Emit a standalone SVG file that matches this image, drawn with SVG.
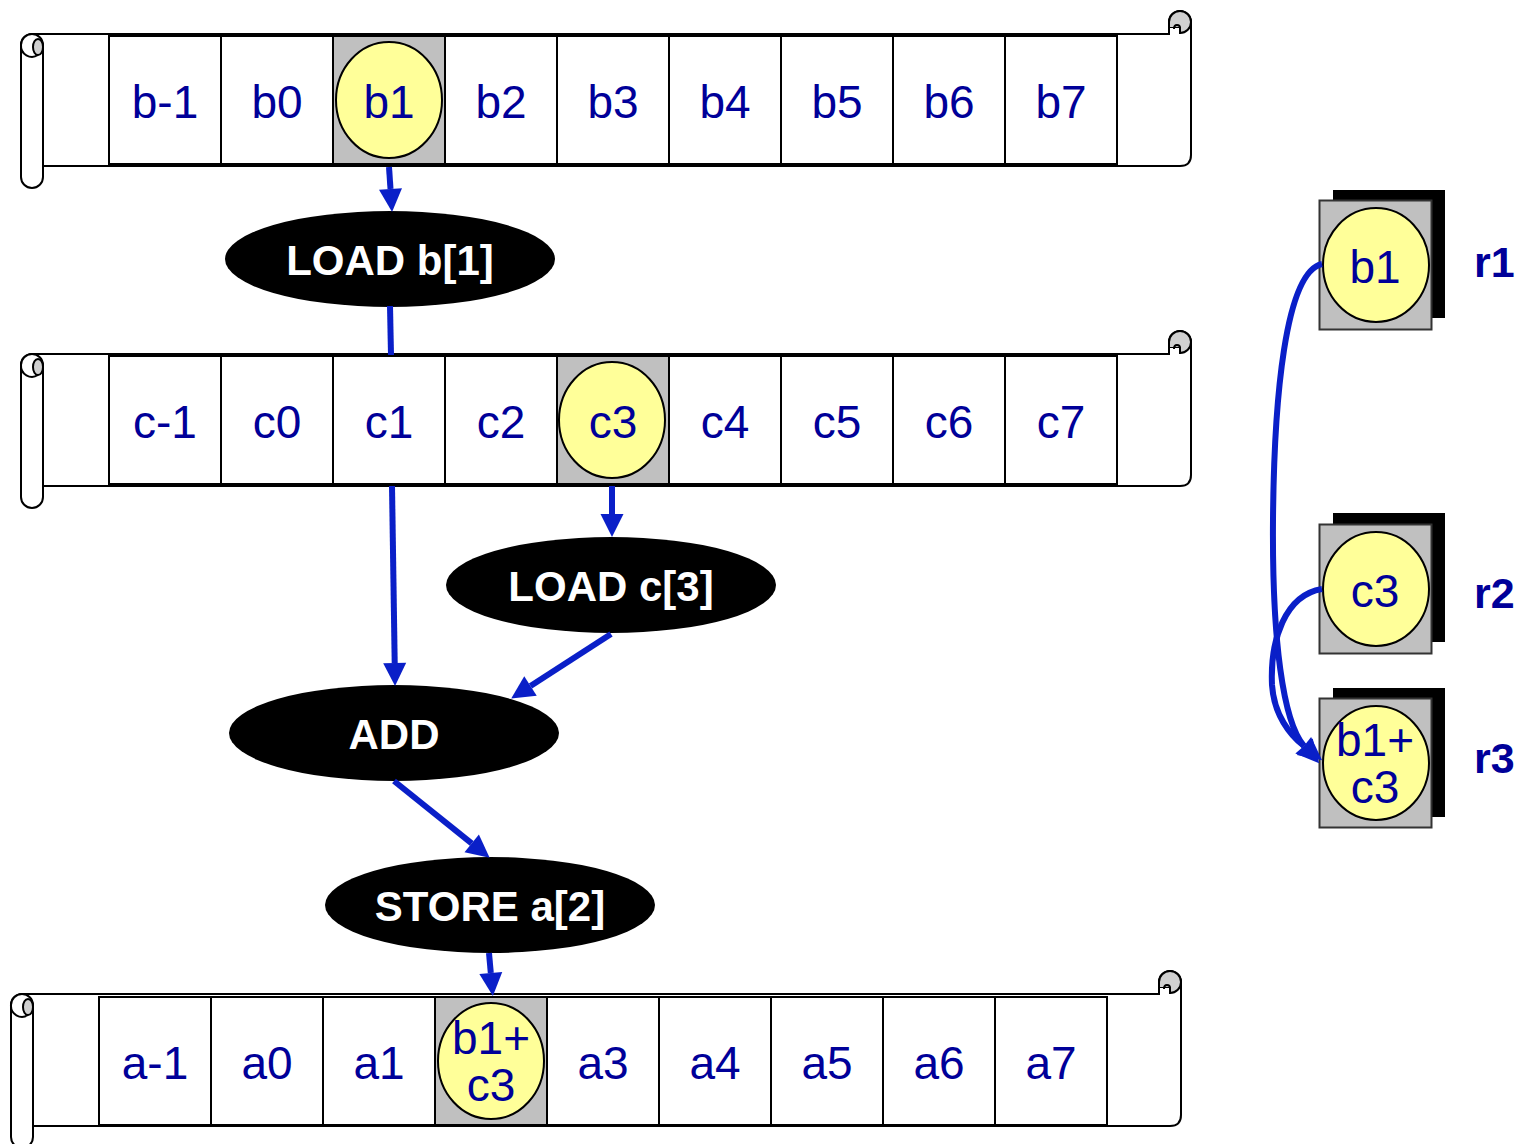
<svg xmlns="http://www.w3.org/2000/svg" xmlns:xlink="http://www.w3.org/1999/xlink" width="1518" height="1144" viewBox="0 0 1518 1144">
<style>
.ln{fill:none;stroke:#000;stroke-width:2}
.body{fill:#fff;stroke:#000;stroke-width:2}
.curl{fill:#d0d0d0;stroke:#000;stroke-width:2}
.cell{fill:#fff;stroke:#000;stroke-width:2}
.hl{fill:#c0c0c0;stroke:#000;stroke-width:2}
.val{fill:#ffff99;stroke:#000;stroke-width:2}
.t{font-family:"Liberation Sans",Arial,sans-serif;font-size:46px;fill:#000099;text-anchor:middle}
.op{fill:#000}
.opt{font-family:"Liberation Sans",Arial,sans-serif;font-size:42px;font-weight:bold;fill:#fff;text-anchor:middle}
.rl{font-family:"Liberation Sans",Arial,sans-serif;font-size:43px;font-weight:bold;fill:#000099}
.arr{fill:none;stroke:#0a1fc8;stroke-width:6}
.arrh{marker-end:url(#ah)}
</style>
<defs>
<marker id="ah" markerUnits="userSpaceOnUse" markerWidth="24" markerHeight="24" refX="0" refY="11.5" orient="auto" overflow="visible">
<path d="M0,0 L23,11.5 L0,23 Z" fill="#0a1fc8"/>
</marker>
<g id="scroll">
<path class="body" d="M32,34 H1169 V22 A11,11 0 0 1 1191,22 V155 Q1191,166 1180,166 H43 V45 H21 V45 A11,11 0 0 1 32,34 Z"/>
<path class="curl" d="M1169,22 A11,11 0 0 1 1191,22 A11,11 0 0 1 1180,33 V28 H1169 Z"/>
<rect x="1169" y="28" width="11" height="6" fill="#fff"/>
<path class="ln" d="M1169,22 V34 M1180,28 V34 M1174,29 Q1174,25 1177,25 Q1180,25 1180,28"/>
<path class="body" d="M21,45 V177 A11,11 0 0 0 43,177 V45 A11,11 0 0 0 21,45 Z"/>
<ellipse class="curl" cx="38" cy="47" rx="5" ry="8"/>
<path class="ln" d="M21,45 A11,11 0 0 0 38,55"/>
</g>
</defs>
<rect width="1518" height="1144" fill="#fff"/>

<g id="array-b">
<use xlink:href="#scroll" href="#scroll"/>
<rect class="cell" x="109" y="36" width="112" height="128"/>
<rect class="cell" x="221" y="36" width="112" height="128"/>
<rect class="hl" x="333" y="36" width="112" height="128"/>
<rect class="cell" x="445" y="36" width="112" height="128"/>
<rect class="cell" x="557" y="36" width="112" height="128"/>
<rect class="cell" x="669" y="36" width="112" height="128"/>
<rect class="cell" x="781" y="36" width="112" height="128"/>
<rect class="cell" x="893" y="36" width="112" height="128"/>
<rect class="cell" x="1005" y="36" width="112" height="128"/>
<ellipse class="val" cx="389" cy="100" rx="53" ry="58"/>
<text class="t" x="165" y="118">b-1</text>
<text class="t" x="277" y="118">b0</text>
<text class="t" x="389" y="118">b1</text>
<text class="t" x="501" y="118">b2</text>
<text class="t" x="613" y="118">b3</text>
<text class="t" x="725" y="118">b4</text>
<text class="t" x="837" y="118">b5</text>
<text class="t" x="949" y="118">b6</text>
<text class="t" x="1061" y="118">b7</text>
</g>

<g id="array-c">
<use xlink:href="#scroll" href="#scroll" y="320"/>
<rect class="cell" x="109" y="356" width="112" height="128"/>
<rect class="cell" x="221" y="356" width="112" height="128"/>
<rect class="cell" x="333" y="356" width="112" height="128"/>
<rect class="cell" x="445" y="356" width="112" height="128"/>
<rect class="hl" x="557" y="356" width="112" height="128"/>
<rect class="cell" x="669" y="356" width="112" height="128"/>
<rect class="cell" x="781" y="356" width="112" height="128"/>
<rect class="cell" x="893" y="356" width="112" height="128"/>
<rect class="cell" x="1005" y="356" width="112" height="128"/>
<ellipse class="val" cx="612" cy="420" rx="53" ry="58"/>
<text class="t" x="165" y="438">c-1</text>
<text class="t" x="277" y="438">c0</text>
<text class="t" x="389" y="438">c1</text>
<text class="t" x="501" y="438">c2</text>
<text class="t" x="613" y="438">c3</text>
<text class="t" x="725" y="438">c4</text>
<text class="t" x="837" y="438">c5</text>
<text class="t" x="949" y="438">c6</text>
<text class="t" x="1061" y="438">c7</text>
</g>

<g id="array-a">
<use xlink:href="#scroll" href="#scroll" x="-10" y="960"/>
<rect class="cell" x="99" y="997" width="112" height="128"/>
<rect class="cell" x="211" y="997" width="112" height="128"/>
<rect class="cell" x="323" y="997" width="112" height="128"/>
<rect class="hl" x="435" y="997" width="112" height="128"/>
<rect class="cell" x="547" y="997" width="112" height="128"/>
<rect class="cell" x="659" y="997" width="112" height="128"/>
<rect class="cell" x="771" y="997" width="112" height="128"/>
<rect class="cell" x="883" y="997" width="112" height="128"/>
<rect class="cell" x="995" y="997" width="112" height="128"/>
<ellipse class="val" cx="491" cy="1061" rx="53" ry="58"/>
<text class="t" x="155" y="1079">a-1</text>
<text class="t" x="267" y="1079">a0</text>
<text class="t" x="379" y="1079">a1</text>
<text class="t" x="491" y="1054">b1+</text>
<text class="t" x="491" y="1101">c3</text>
<text class="t" x="603" y="1079">a3</text>
<text class="t" x="715" y="1079">a4</text>
<text class="t" x="827" y="1079">a5</text>
<text class="t" x="939" y="1079">a6</text>
<text class="t" x="1051" y="1079">a7</text>
</g>

<g id="op-load-b">
<ellipse class="op" cx="390" cy="259" rx="165" ry="48"/>
<text class="opt" x="390" y="275">LOAD b[1]</text>
</g>
<g id="op-load-c">
<ellipse class="op" cx="611" cy="585" rx="165" ry="48"/>
<text class="opt" x="611" y="601">LOAD c[3]</text>
</g>
<g id="op-add">
<ellipse class="op" cx="394" cy="733" rx="165" ry="48"/>
<text class="opt" x="394" y="749">ADD</text>
</g>
<g id="op-store">
<ellipse class="op" cx="490" cy="905" rx="165" ry="48"/>
<text class="opt" x="490" y="921">STORE a[2]</text>
</g>

<g id="reg-r1">
<rect x="1333" y="190" width="112" height="128" fill="#000"/>
<rect x="1319.5" y="200.5" width="112" height="129" fill="#c0c0c0" stroke="#333" stroke-width="2"/>
<ellipse class="val" cx="1376" cy="265" rx="53" ry="57"/>
<text class="t" x="1375" y="283">b1</text>
<text class="rl" x="1474" y="277">r1</text>
</g>
<g id="reg-r2">
<rect x="1333" y="513" width="112" height="129" fill="#000"/>
<rect x="1319.5" y="524.5" width="112" height="129" fill="#c0c0c0" stroke="#333" stroke-width="2"/>
<ellipse class="val" cx="1376" cy="589" rx="53" ry="57"/>
<text class="t" x="1375" y="607">c3</text>
<text class="rl" x="1474" y="608">r2</text>
</g>
<g id="reg-r3">
<rect x="1333" y="688" width="112" height="129" fill="#000"/>
<rect x="1319.5" y="698.5" width="112" height="129" fill="#c0c0c0" stroke="#333" stroke-width="2"/>
<ellipse class="val" cx="1376" cy="763" rx="53" ry="57"/>
<text class="t" x="1375" y="756">b1+</text>
<text class="t" x="1375" y="803">c3</text>
<text class="rl" x="1474" y="773">r3</text>
</g>

<g id="connectors">
<path class="arr arrh" d="M389,167 L390.5,189"/>
<path class="arr" d="M390,306 L391,355"/>
<path class="arr arrh" d="M392,486 L394.7,663"/>
<path class="arr arrh" d="M612,486 L612,514"/>
<path class="arr arrh" d="M611,634 L530.5,686"/>
<path class="arr arrh" d="M394,781 L471.7,843.4"/>
<path class="arr arrh" d="M489,953 L490.8,973"/>
<path class="arr arrh" d="M1322,264 C1285,272 1274,400 1273,520 C1272,640 1283,722 1304,746"/>
<path class="arr arrh" d="M1322,589 C1285,595 1270,640 1272,685 C1274,715 1290,735 1304,746"/>
</g>
</svg>
